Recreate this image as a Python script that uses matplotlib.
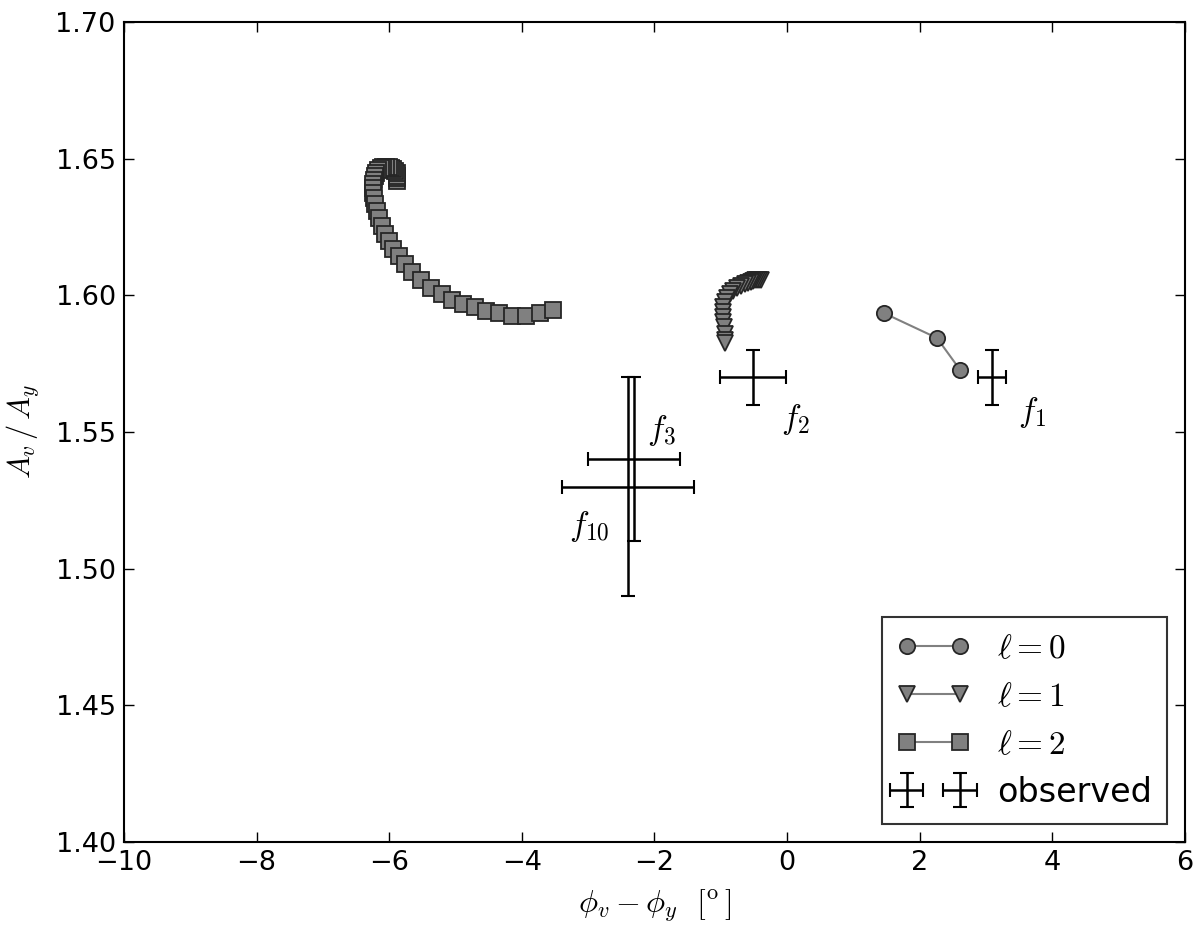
import numpy as np
import matplotlib
matplotlib.use('Agg')
import matplotlib.pyplot as plt

# Style ----------------------------------------------------

plt.rcParams['mathtext.fontset'] = 'cm'
plt.rcParams['font.family'] = 'DejaVu Sans'
plt.rcParams['xtick.direction'] = 'in'
plt.rcParams['ytick.direction'] = 'in'
plt.rcParams['xtick.top'] = True
plt.rcParams['ytick.right'] = True
plt.rcParams['xtick.major.size'] = 7
plt.rcParams['ytick.major.size'] = 7
plt.rcParams['xtick.major.pad'] = 6
plt.rcParams['ytick.major.pad'] = 6

# Data -----------------------------------------------------

l0_x = [1.46, 2.26, 2.61]
l0_y = [1.5935, 1.5844, 1.5727]

l1_x = [-0.39, -0.42, -0.45, -0.48, -0.51, -0.55, -0.59, -0.64, -0.69, -0.75, -0.81,
        -0.86, -0.91, -0.94, -0.96, -0.97, -0.97, -0.96, -0.95, -0.94, -0.93, -0.93]
l1_y = [1.6057, 1.6057, 1.6056, 1.6055, 1.6053, 1.6050, 1.6046, 1.6041, 1.6035, 1.6027, 1.6017,
        1.6005, 1.5991, 1.5975, 1.5958, 1.5940, 1.5922, 1.5903, 1.5883, 1.5860, 1.5838, 1.5826]

l2_x = [-5.89, -5.88, -5.88, -5.89, -5.91, -5.94, -5.97, -6.01, -6.05, -6.09, -6.13,
        -6.17, -6.20, -6.22, -6.23, -6.24, -6.24, -6.24, -6.23, -6.21, -6.18, -6.15,
        -6.11, -6.06, -6.01, -5.95, -5.86, -5.76, -5.65, -5.52, -5.37, -5.21, -5.05,
        -4.89, -4.70, -4.54, -4.34, -4.15, -3.94, -3.73, -3.53]
l2_y = [1.6418, 1.6428, 1.6438, 1.6448, 1.6456, 1.6462, 1.6467, 1.6470, 1.6471, 1.6470, 1.6466,
        1.6458, 1.6448, 1.6436, 1.6422, 1.6407, 1.6392, 1.6376, 1.6358, 1.6336, 1.6310, 1.6283,
        1.6254, 1.6226, 1.6199, 1.6171, 1.6145, 1.6116, 1.6084, 1.6056, 1.6028, 1.6005, 1.5984,
        1.5968, 1.5956, 1.5944, 1.5935, 1.5925, 1.5925, 1.5935, 1.5945]

obs_names = ['$f_1$', '$f_2$', '$f_3$', '$f_{10}$']
obs_x = [3.09, -0.51, -2.31, -2.40]
obs_y = [1.57, 1.57, 1.54, 1.53]
obs_xerr = [0.21, 0.5, 0.70, 1.0]
obs_yerr = [0.01, 0.01, 0.03, 0.04]
label_x = [3.69, 0.12, -1.89, -2.99]
label_y = [1.557, 1.5544, 1.5505, 1.5155]

# Plot -----------------------------------------------------

fig = plt.figure(figsize=(12, 9.34), dpi=100)
ax = fig.add_axes([0.1033, 0.0985, 0.8842, 0.8779])

mstyle = dict(color='0.5', mfc='0.5', mec='0.15', ms=11, lw=1.5, mew=1.3)
ax.plot(l0_x, l0_y, marker='o', label=r'$\ell=0$', **mstyle)
ax.plot(l1_x, l1_y, marker='v', label=r'$\ell=1$', **mstyle)
ax.plot(l2_x, l2_y, marker='s', label=r'$\ell=2$', **mstyle)

ax.errorbar(obs_x, obs_y, xerr=obs_xerr, yerr=obs_yerr, fmt='none', ecolor='k',
            elinewidth=1.8, capsize=5, capthick=1.5, label='observed')

for name, tx, ty in zip(obs_names, label_x, label_y):
    ax.text(tx, ty, name, fontsize=24, ha='center', va='center')

ax.set_xlim(-10, 6)
ax.set_ylim(1.40, 1.70)
ax.set_xticks(np.arange(-10, 7, 2))
ax.set_yticks(np.arange(1.40, 1.701, 0.05))
ax.set_yticklabels(['%.2f' % v for v in np.arange(1.40, 1.701, 0.05)])
ax.tick_params(labelsize=19.5, width=1)
for s in ax.spines.values():
    s.set_linewidth(1.5)

ax.set_xlabel(r'$\phi_v - \phi_y\ \ [^{\rm o}\,]$', fontsize=23, labelpad=8)
ax.set_ylabel(r'$A_v\,/\,A_y$', fontsize=22, labelpad=10)

leg = ax.legend(loc='lower right', numpoints=2, fontsize=24, fancybox=False,
                handlelength=2.2, labelspacing=0.45, borderaxespad=0.55,
                handletextpad=0.8, borderpad=0.45)
leg.get_frame().set_edgecolor('k')
leg.get_frame().set_linewidth(1.5)

fig.savefig('out.png', dpi=100)
